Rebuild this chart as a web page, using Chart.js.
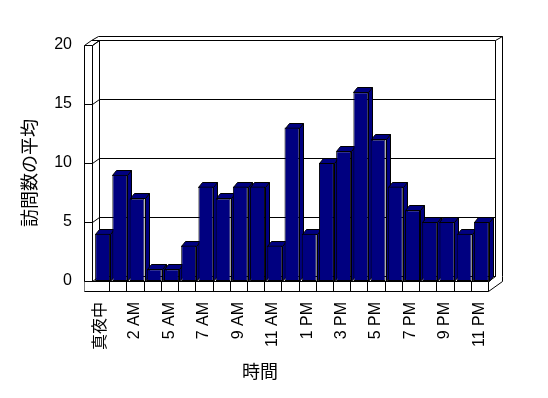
<!DOCTYPE html>
<html>
<head>
<meta charset="utf-8">
<script src="https://cdn.jsdelivr.net/npm/chart.js@4.4.1/dist/chart.umd.min.js"></script>
<style>
    html, body { margin: 0; padding: 0; background: #fff; }
    #wrap { width: 548px; height: 398px; }
</style>
</head>
<body>
<div id="wrap"><canvas id="chart"></canvas></div>
<script>
// Data
const hours = ["真夜中", "1 AM", "2 AM", "3 AM", "5 AM", "6 AM", "7 AM", "8 AM", "9 AM", "10 AM", "11 AM", "12 PM",
    "1 PM", "2 PM", "3 PM", "4 PM", "5 PM", "6 PM", "7 PM", "8 PM", "9 PM", "10 PM", "11 PM"];
const visits = [4, 9, 7, 1, 1, 3, 8, 7, 8, 8, 3, 13, 4, 10, 11, 16, 12, 8, 6, 5, 5, 4, 5];
const yTicks = [0, 5, 10, 15, 20];
const xTitle = "時間";
const yTitle = "訪問数の平均";

const FONT = "'Liberation Sans', Arial, 'Noto Sans CJK JP', sans-serif";
const NAVY = "#000080";

// 3D look
const DEPTH = { x: 7, y: -5 };     // front plane -> back wall
const BAR_DEPTH = { x: 4, y: -5 };
const WALL = 8;                    // left wall / floor thickness
const SHIFT = 2;                   // bars sit a bit behind the front plane

function px(v) { return Math.round(v) + 0.5; }

function poly(ctx, pts, fill) {
    ctx.beginPath();
    pts.forEach((p, i) => i ? ctx.lineTo(p[0], p[1]) : ctx.moveTo(p[0], p[1]));
    if (fill) {
        ctx.closePath();
        ctx.fillStyle = fill;
        ctx.fill();
    }
    ctx.stroke();
}

const frame3d = {
    id: "frame3d",
    beforeDatasetsDraw(chart) {
        const { ctx, chartArea: a, scales: { x, y } } = chart;
        const L = px(a.left), R = px(a.right), T = px(a.top), B = px(a.bottom);
        const dx = DEPTH.x, dy = DEPTH.y;

        ctx.save();
        ctx.strokeStyle = "#000";
        ctx.lineWidth = 1;

        // back wall + its thickness
        poly(ctx, [[L - WALL, T], [L - WALL + dx, T + dy], [L - WALL + 2 * dx, T + 2 * dy + 1], [R + 2 * dx, T + 2 * dy + 1], [R + 2 * dx, B + dy]]);
        poly(ctx, [[L, T], [L + dx, T + dy]]);
        poly(ctx, [[L - WALL + dx, T + dy], [L + dx, T + dy]]);
        poly(ctx, [[R + dx, T + dy], [R + 2 * dx, T + 2 * dy + 1]]);
        poly(ctx, [[R + dx, T + dy], [R + dx, B + dy]]);
        poly(ctx, [[L + dx, T + dy], [L + dx, B + dy], [R + dx, B + dy]]);

        // left wall front edge
        poly(ctx, [[L - WALL, T], [L - WALL, B + 10]]);
        poly(ctx, [[L, T], [L, B]]);

        // gridlines on the back wall, ticks on the wall edge
        yTicks.forEach(v => {
            const py = px(y.getPixelForValue(v));
            poly(ctx, [[L - WALL, py], [L, py], [L + dx, py + dy], [R + dx, py + dy]]);
        });

        // floor
        ctx.fillStyle = "#fff";
        ctx.fillRect(L - WALL, B, R - L + WALL, 10);
        poly(ctx, [[L - WALL, B], [R, B], [R, B + 10], [L - WALL, B + 10]]);
        poly(ctx, [[R, B], [R + dx, B + dy]]);
        poly(ctx, [[R, B + 10], [R + 2 * dx, B], [R + 2 * dx, B + dy]]);
        for (let i = 1; i < hours.length; i++) {
            const bx = px((x.getPixelForValue(i - 1) + x.getPixelForValue(i)) / 2);
            poly(ctx, [[bx, B], [bx, B + 10]]);
        }

        // bar sides and tops, drawn behind the fronts
        const meta = chart.getDatasetMeta(0);
        meta.data.forEach(bar => {
            const l = Math.round(bar.x - bar.width / 2) + SHIFT + 0.5;
            const r = Math.round(bar.x + bar.width / 2) + SHIFT + 0.5;
            const t = px(bar.y), b = px(bar.base);
            poly(ctx, [[r, t], [r + BAR_DEPTH.x, t + BAR_DEPTH.y], [r + BAR_DEPTH.x, b + BAR_DEPTH.y], [r, b]], NAVY);
            poly(ctx, [[l, t], [l + BAR_DEPTH.x, t + BAR_DEPTH.y], [r + BAR_DEPTH.x, t + BAR_DEPTH.y], [r, t]], NAVY);
        });

        ctx.restore();
        ctx.save();
        ctx.translate(SHIFT, 0);
    },
    afterDatasetsDraw(chart) {
        chart.ctx.restore();
    },
    afterDraw(chart) {
        const { ctx } = chart;
        ctx.save();
        ctx.fillStyle = "#000";
        ctx.font = "18px " + FONT;
        ctx.textAlign = "center";
        ctx.textBaseline = "middle";
        ctx.fillText(xTitle, 260, 373);
        ctx.translate(31, 173);
        ctx.rotate(-Math.PI / 2);
        ctx.fillText(yTitle, 0, 0);
        ctx.restore();
    }
};

new Chart(document.getElementById("chart"), {
    type: "bar",
    data: {
        labels: hours,
        datasets: [{
            data: visits,
            backgroundColor: NAVY,
            borderColor: "#000",
            borderWidth: 1,
            borderSkipped: false,
            barPercentage: 0.87,
            categoryPercentage: 1.0,
            clip: false
        }]
    },
    options: {
        responsive: true,
        maintainAspectRatio: false,
        animation: false,
        layout: { padding: { top: 45, right: 60, bottom: 0, left: 0 } },
        plugins: {
            legend: { display: false },
            tooltip: { enabled: false }
        },
        scales: {
            x: {
                grid: { display: false, drawTicks: false },
                border: { display: false },
                ticks: {
                    autoSkip: false,
                    maxRotation: 90,
                    minRotation: 90,
                    padding: 21,
                    color: "#000",
                    font: { family: FONT, size: 16 },
                    callback: (v, i) => i % 2 === 0 ? hours[i] : ""
                },
                afterFit: s => { s.height = 117; }
            },
            y: {
                min: 0,
                max: 20,
                grid: { display: false, drawTicks: false },
                border: { display: false },
                ticks: {
                    stepSize: 5,
                    padding: 20,
                    color: "#000",
                    font: { family: FONT, size: 16 }
                },
                afterFit: s => { s.width = 92; }
            }
        }
    },
    plugins: [frame3d]
});
</script>
</body>
</html>
